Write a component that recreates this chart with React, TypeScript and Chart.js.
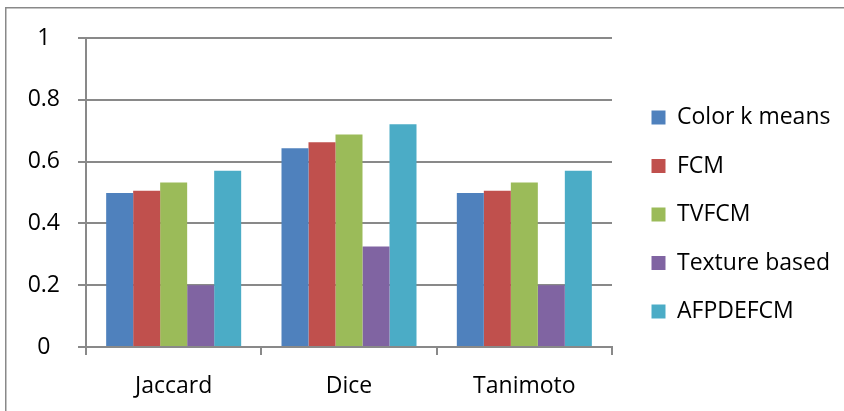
import React, { useEffect, useRef } from "react";
import { Chart, registerables } from "chart.js";

Chart.register(...registerables);

const categories = ["Jaccard", "Dice", "Tanimoto"];
const seriesNames = ["Color k means", "FCM", "TVFCM", "Texture based", "AFPDEFCM"];
const colorKMeans = [0.498, 0.643, 0.498];
const fcm = [0.506, 0.663, 0.506];
const tvfcm = [0.532, 0.688, 0.532];
const textureBased = [0.2, 0.325, 0.2];
const afpdefcm = [0.57, 0.721, 0.57];
const yTicks = [0, 0.2, 0.4, 0.6, 0.8, 1];
const seriesColors = ["#4F81BD", "#C0504D", "#9BBB59", "#8064A2", "#4BACC6"];

const W = 844;
const H = 411;
const FONT = "'Open Sans', 'Liberation Sans', sans-serif";
const GRID = "#898989";

export default function App() {
  const ref = useRef<HTMLCanvasElement | null>(null);

  useEffect(() => {
    if (!ref.current) return;
    const values = [colorKMeans, fcm, tvfcm, textureBased, afpdefcm];

    const framePlugin = {
      id: "frame",
      beforeDraw(chart: any) {
        const ctx = chart.ctx;
        ctx.save();
        ctx.fillStyle = "#ffffff";
        ctx.fillRect(0, 0, W, H);
        ctx.strokeStyle = GRID;
        ctx.lineWidth = 1.5;
        ctx.strokeRect(5.75, 7.75, W + 20, H + 20);
        ctx.restore();
      },
    };

    const legendPlugin = {
      id: "legendFix",
      afterInit(chart: any) {
        const lg = chart.legend;
        if (lg && !lg.__patched) {
          const f = lg.fit.bind(lg);
          lg.fit = () => {
            f();
            lg.width = W - 612;
          };
          lg.__patched = true;
        }
      },
      afterLayout(chart: any) {
        const lg = chart.legend;
        if (!lg) return;
        lg.left = 626;
        lg.right = W;
        lg.top = 9;
        lg.bottom = H + 9;
      },
    };

    const chart = new Chart(ref.current, {
      type: "bar",
      data: {
        labels: categories,
        datasets: seriesNames.map((name, i) => ({
          label: name,
          data: values[i],
          backgroundColor: seriesColors[i],
          borderWidth: 0,
          barPercentage: 1,
          categoryPercentage: 0.77,
        })),
      },
      options: {
        responsive: false,
        animation: false,
        devicePixelRatio: 1,
        layout: { padding: { top: 38, left: 0, right: 0, bottom: 0 } },
        plugins: {
          tooltip: { enabled: false },
          legend: {
            position: "right",
            labels: {
              boxWidth: 14,
              boxHeight: 14,
              padding: 25.5,
              color: "#000",
              font: { family: FONT, size: 23 },
            },
          },
        },
        scales: {
          x: {
            afterFit: (s: any) => {
              s.height = H - 347;
            },
            grid: {
              offset: true,
              drawOnChartArea: false,
              drawTicks: true,
              tickLength: 8,
              color: GRID,
              lineWidth: 2,
            },
            border: { color: GRID, width: 2 },
            ticks: {
              color: "#000",
              padding: 18,
              font: { family: FONT, size: 23 },
            },
          },
          y: {
            min: 0,
            max: 1,
            afterFit: (s: any) => {
              s.width = 86;
            },
            afterBuildTicks: (s: any) => {
              s.ticks = yTicks.map((v) => ({ value: v }));
            },
            grid: {
              color: GRID,
              lineWidth: 2,
              drawTicks: true,
              tickLength: 8,
            },
            border: { color: GRID, width: 2 },
            ticks: {
              color: "#000",
              padding: 18,
              crossAlign: "center",
              font: { family: FONT, size: 23 },
              callback: (v: any) => String(Math.round(Number(v) * 10) / 10),
            },
          },
        },
      },
      plugins: [framePlugin, legendPlugin],
    });
    return () => chart.destroy();
  }, []);

  return (
    <div style={{ position: "fixed", left: 0, top: 0, width: W, height: H, overflow: "hidden", background: "#fff" }}>
      <canvas ref={ref} width={W} height={H} style={{ display: "block", width: W, height: H }} />
    </div>
  );
}
